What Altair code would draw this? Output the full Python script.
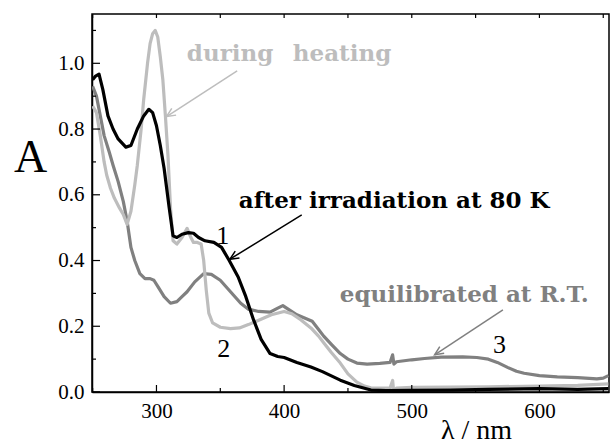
import math
import altair as alt
import pandas as pd

# ---------------- data ----------------
nm_1 = [250, 252, 255, 258, 262, 266, 270, 276, 280, 285, 290, 294, 297, 300, 303, 306, 310, 313, 316,
        320, 325, 329, 333, 338, 345, 351, 357, 364, 370, 376, 382, 389, 395, 400, 410, 421, 430, 444,
        455, 468, 480, 500, 530, 560, 600, 630, 654]
a_1 = [0.95, 0.96, 0.967, 0.92, 0.84, 0.80, 0.77, 0.745, 0.75, 0.80, 0.84, 0.86, 0.85, 0.81, 0.75, 0.68,
       0.56, 0.475, 0.47, 0.48, 0.485, 0.483, 0.47, 0.46, 0.455, 0.44, 0.40, 0.35, 0.29, 0.22, 0.16, 0.117,
       0.108, 0.105, 0.09, 0.076, 0.062, 0.036, 0.02, 0.006, 0.004, 0.005, 0.006, 0.008, 0.01, 0.008, 0.01]

nm_2 = [250, 253, 256, 259, 261, 264, 267, 271, 274, 277, 280, 283, 285, 288, 290, 293, 295, 297, 299,
        301, 303, 305, 307, 309, 311, 313, 316, 320, 324, 327, 329, 332, 335, 337, 339, 341, 344, 350,
        358, 365, 372, 381, 390, 400, 406, 413, 421, 427, 431, 437, 444, 450, 457, 463, 468, 475, 483,
        485, 486, 488, 500, 530, 560, 600, 630, 654]
a_2 = [0.87, 0.85, 0.78, 0.70, 0.66, 0.62, 0.59, 0.56, 0.54, 0.51, 0.55, 0.63, 0.69, 0.80, 0.89, 1.0,
       1.06, 1.09, 1.10, 1.08, 1.02, 0.95, 0.84, 0.72, 0.56, 0.46, 0.45, 0.47, 0.498, 0.47, 0.455, 0.455,
       0.45, 0.40, 0.31, 0.24, 0.21, 0.197, 0.193, 0.195, 0.205, 0.22, 0.235, 0.245, 0.238, 0.22, 0.195,
       0.17, 0.15, 0.12, 0.088, 0.055, 0.03, 0.018, 0.013, 0.012, 0.012, 0.035, -0.005, 0.012, 0.014,
       0.015, 0.016, 0.018, 0.02, 0.025]

nm_3 = [250, 253, 256, 259, 263, 266, 270, 274, 277, 280, 283, 287, 291, 295, 298, 302, 306, 311, 316,
        320, 324, 330, 337, 343, 350, 358, 366, 372, 380, 389, 395, 399, 404, 410, 416, 422, 427, 431,
        437, 444, 450, 457, 465, 475, 483, 485, 486, 488, 500, 510, 523, 540, 551, 560, 567, 575, 582,
        588, 600, 614, 630, 645, 650, 654]
a_3 = [0.93, 0.90, 0.84, 0.78, 0.73, 0.69, 0.64, 0.58, 0.52, 0.44, 0.40, 0.36, 0.345, 0.345, 0.34, 0.315,
       0.29, 0.27, 0.275, 0.29, 0.305, 0.335, 0.36, 0.358, 0.34, 0.305, 0.27, 0.252, 0.245, 0.243, 0.255,
       0.263, 0.25, 0.235, 0.225, 0.215, 0.19, 0.17, 0.145, 0.117, 0.10, 0.088, 0.085, 0.087, 0.09, 0.113,
       0.085, 0.092, 0.098, 0.102, 0.106, 0.107, 0.105, 0.10, 0.09, 0.075, 0.063, 0.057, 0.05, 0.046,
       0.044, 0.04, 0.042, 0.05]

x_major = [300, 400, 500, 600]
x_minor = [250, 350, 450, 550, 650]
y_major = [0.0, 0.2, 0.4, 0.6, 0.8, 1.0]
y_minor = [0.1, 0.3, 0.5, 0.7, 0.9, 1.1]

# ---------------- layout ----------------
W, H = 517, 378
X_DOM = [249.5, 654.5]
Y_DOM = [0.0, 1.15]
SERIF = "Liberation Serif"
WIDE = "DejaVu Serif"
LIGHT = "#bdbdbd"
MID = "#808080"

xs = alt.Scale(domain=X_DOM, nice=False, zero=False)
ys = alt.Scale(domain=Y_DOM, nice=False, zero=False)

x_axis = alt.Axis(values=x_major, title="λ / nm", format="d", grid=False, ticks=False, tickSize=0,
                  labelPadding=8, labelFont=SERIF, labelFontSize=21, labelColor="black",
                  domainColor="black", domainWidth=1.5,
                  titleFont=SERIF, titleFontSize=28, titleFontWeight="normal", titleColor="black",
                  titleX=384, titleY=46, titleBaseline="alphabetic", titleAlign="center")
y_axis = alt.Axis(values=y_major, title="A", format=".1f", grid=False, ticks=False, tickSize=0,
                  labelPadding=8, labelFont=SERIF, labelFontSize=21, labelColor="black",
                  domainColor="black", domainWidth=1.5,
                  titleFont=SERIF, titleFontSize=46, titleFontWeight="normal", titleColor="black",
                  titleAngle=0, titleX=-62, titleY=143, titleBaseline="middle", titleAlign="center")


def X(f):
    return alt.X(f, type="quantitative", scale=xs, axis=x_axis)


def Y(f):
    return alt.Y(f, type="quantitative", scale=ys, axis=y_axis)


def curve(nm, a, color):
    df = pd.DataFrame({"nm": nm, "A": a})
    return alt.Chart(df).mark_line(color=color, strokeWidth=3.2, clip=True,
                                   strokeJoin="round").encode(x=X("nm"), y=Y("A"))


layers = [curve(nm_3, a_3, MID), curve(nm_2, a_2, LIGHT), curve(nm_1, a_1, "black")]

# inward ticks
def xticks(vals, y0, y1):
    return alt.Chart(pd.DataFrame({"t": vals})).mark_rule(color="black", strokeWidth=1.2).encode(
        x=X("t"), y=alt.value(y0), y2=alt.value(y1))


def yticks(vals, x0, x1):
    return alt.Chart(pd.DataFrame({"t": vals})).mark_rule(color="black", strokeWidth=1.2).encode(
        y=Y("t"), x=alt.value(x0), x2=alt.value(x1))


layers += [xticks(x_major, H, H - 7), xticks(x_minor, H, H - 4),
           xticks(x_major, 0, 4), xticks(x_minor, 0, 4),
           yticks(y_major, 0, 8), yticks(y_minor, 0, 4)]

# arrows (tail -> tip) in data coordinates
arr_x0 = [363.2, 413.8, 571.4]
arr_y0 = [0.977, 0.539, 0.250]
arr_x1 = [307.9, 357.5, 517.9]
arr_y1 = [0.838, 0.404, 0.113]
arr_col = [LIGHT, "black", MID]

kx = W / (X_DOM[1] - X_DOM[0])
ky = H / (Y_DOM[1] - Y_DOM[0])
for x0, y0, x1, y1, c in zip(arr_x0, arr_y0, arr_x1, arr_y1, arr_col):
    dx = (x1 - x0) * kx
    dy = -(y1 - y0) * ky
    ang = math.degrees(math.atan2(dx, -dy)) % 360
    seg = pd.DataFrame({"x0": [x0], "y0": [y0], "x1": [x1], "y1": [y1], "ang": [ang]})
    layers.append(alt.Chart(seg).mark_rule(color=c, strokeWidth=1.5).encode(
        x=X("x0"), y=Y("y0"), x2="x1", y2="y1"))
    layers.append(alt.Chart(seg).mark_point(shape="M-1,2.2L0,0L1,2.2", filled=False, size=64,
                                            color=c, strokeWidth=1.5, opacity=1).encode(
        x=X("x1"), y=Y("y1"), angle=alt.Angle("ang:Q", scale=None)))

# annotation texts
def label(txt, x, y, color, font, size, weight, align="left", baseline="alphabetic"):
    df = pd.DataFrame({"nm": [x], "A": [y], "t": [txt]})
    return alt.Chart(df).mark_text(font=font, fontSize=size, fontWeight=weight, color=color,
                                   align=align, baseline=baseline).encode(
        x=X("nm"), y=Y("A"), text="t:N")


layers += [
    label("during", 323.8, 1.007, LIGHT, WIDE, 23, "bold"),
    label("heating", 406.8, 1.007, LIGHT, WIDE, 23, "bold"),
    label("after irradiation at 80 K", 364.5, 0.560, "black", WIDE, 23, "bold"),
    label("equilibrated at R.T.", 443.6, 0.275, MID, WIDE, 23, "bold"),
    label("1", 352.0, 0.475, "black", SERIF, 26, "normal", "center", "middle"),
    label("2", 352.8, 0.132, "black", SERIF, 26, "normal", "center", "middle"),
    label("3", 568.8, 0.144, "black", SERIF, 26, "normal", "center", "middle"),
]

chart = alt.layer(*layers).properties(
    width=W, height=H,
    autosize=alt.AutoSizeParams(type="none"),
    padding={"left": 92, "top": 14, "right": 1, "bottom": 53},
    background="white",
).configure_view(stroke="black", strokeWidth=1.5)

chart.save("out.html", embed_options={"renderer": "svg", "actions": False})
